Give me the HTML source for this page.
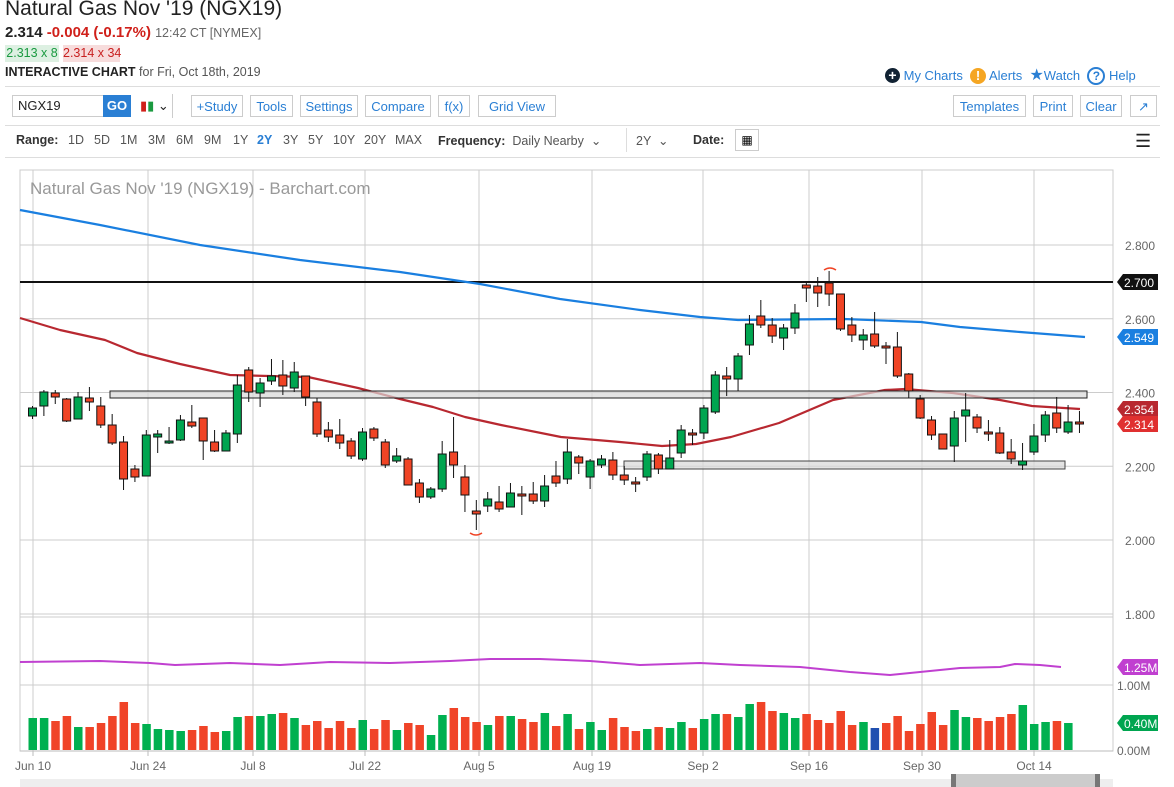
<!DOCTYPE html>
<html><head><meta charset="utf-8">
<style>
body{margin:0;width:1174px;height:787px;overflow:hidden;background:#fff;font-family:"Liberation Sans",sans-serif;position:relative}
.a{position:absolute;white-space:nowrap}
.btn{position:absolute;top:95px;height:22px;border:1px solid #ccc;color:#2a7fd4;font-size:13px;line-height:22px;text-align:center;box-sizing:border-box}
.rng{position:absolute;top:133px;font-size:12.5px;color:#555}
</style></head><body>
<div class="a" style="left:5px;top:-3px;font-size:21px;color:#222">Natural Gas Nov '19 (NGX19)</div>
<div class="a" style="left:5px;top:24px;font-size:15px;color:#222"><b>2.314</b> <b style="color:#d0201a">-0.004 (-0.17%)</b> <span style="font-size:12.5px;color:#666">12:42 CT [NYMEX]</span></div>
<div class="a" style="left:5px;top:45px;width:54px;height:17px;background:#ddf0e2;color:#1a9a40;font-size:12.5px;line-height:17px;text-align:center">2.313 x 8</div>
<div class="a" style="left:63px;top:45px;width:57px;height:17px;background:#f7dcdc;color:#c82020;font-size:12.5px;line-height:17px;text-align:center">2.314 x 34</div>
<div class="a" style="left:5px;top:65px;font-size:12.5px;color:#222"><b>INTERACTIVE CHART</b> <span style="color:#555">for Fri, Oct 18th, 2019</span></div>
<div class="a" style="left:885px;top:65px;font-size:13px;color:#2a7fd4"><span style="display:inline-block;width:15px;height:15px;border-radius:50%;background:#123;color:#fff;text-align:center;line-height:15px;font-weight:bold;font-size:14px">+</span> My Charts &nbsp;<span style="display:inline-block;width:16px;height:16px;border-radius:50%;background:#f5a623;color:#fff;text-align:center;line-height:16px;font-weight:bold">!</span> Alerts &nbsp;<span style="font-size:16px">★</span>Watch &nbsp;<span style="display:inline-block;width:14px;height:14px;border-radius:50%;border:2px solid #2a7fd4;text-align:center;line-height:14px;font-size:12px;font-weight:bold">?</span> Help</div>
<div class="a" style="left:5px;top:86px;width:1155px;border-top:1px solid #ddd"></div>
<div class="a" style="left:12px;top:95px;width:92px;height:22px;border:1px solid #ccc;box-sizing:border-box;font-size:13px;line-height:20px;padding-left:5px;color:#222">NGX19</div>
<div class="a" style="left:103px;top:95px;width:28px;height:22px;background:#2a7fd4;color:#fff;font-weight:bold;font-size:13px;line-height:22px;text-align:center">GO</div>
<div class="a" style="left:140px;top:98px;font-size:13px;color:#222"><span style="color:#d0201a">▮</span><span style="color:#1a9a40">▮</span> ⌄</div>
<div class="a" style="left:172px;top:94px;height:24px;border-left:1px solid #ccc"></div>
<div class="btn" style="left:191px;width:52px">+Study</div>
<div class="btn" style="left:250px;width:43px">Tools</div>
<div class="btn" style="left:300px;width:58px">Settings</div>
<div class="btn" style="left:365px;width:66px">Compare</div>
<div class="btn" style="left:438px;width:32px">f(x)</div>
<div class="btn" style="left:478px;width:78px">Grid View</div>
<div class="btn" style="left:953px;width:73px">Templates</div>
<div class="btn" style="left:1033px;width:40px">Print</div>
<div class="btn" style="left:1080px;width:42px">Clear</div>
<div class="btn" style="left:1130px;width:27px">↗</div>
<div class="a" style="left:5px;top:125px;width:1155px;border-top:1px solid #ddd"></div>
<div class="rng" style="left:16px"><b style="color:#333">Range:</b></div>
<div class="rng" style="left:68px">1D</div><div class="rng" style="left:94px">5D</div><div class="rng" style="left:120px">1M</div><div class="rng" style="left:148px">3M</div><div class="rng" style="left:176px">6M</div><div class="rng" style="left:204px">9M</div><div class="rng" style="left:233px">1Y</div><div class="rng" style="left:257px;color:#2a7fd4;font-weight:bold">2Y</div><div class="rng" style="left:283px">3Y</div><div class="rng" style="left:308px">5Y</div><div class="rng" style="left:333px">10Y</div><div class="rng" style="left:364px">20Y</div><div class="rng" style="left:395px">MAX</div>
<div class="rng" style="left:438px"><b style="color:#333">Frequency:</b> &nbsp;Daily Nearby &nbsp;⌄</div>
<div class="a" style="left:626px;top:128px;height:24px;border-left:1px solid #ddd"></div>
<div class="rng" style="left:636px">2Y &nbsp;⌄</div>
<div class="rng" style="left:693px"><b style="color:#333">Date:</b></div>
<div class="a" style="left:735px;top:129px;width:24px;height:22px;border:1px solid #ccc;box-sizing:border-box;font-size:12px;text-align:center;line-height:20px">▦</div>
<div class="a" style="left:1135px;top:131px;font-size:18px;color:#222">☰</div>
<div class="a" style="left:5px;top:157px;width:1155px;border-top:1px solid #ddd"></div>
<svg id="c" class="a" style="left:0;top:0" width="1174" height="787" xmlns="http://www.w3.org/2000/svg"></svg>
<script>
var s='';
function L(x1,y1,x2,y2,c,w){s+='<line x1="'+x1+'" y1="'+y1+'" x2="'+x2+'" y2="'+y2+'" stroke="'+c+'" stroke-width="'+(w||1)+'"/>';}
function R(x,y,w,h,f,st){s+='<rect x="'+x+'" y="'+y+'" width="'+w+'" height="'+h+'" fill="'+f+'"'+(st?' stroke="'+st+'"':'')+'/>';}
function T(x,y,t,c,sz,an){s+='<text x="'+x+'" y="'+y+'" fill="'+c+'" font-size="'+sz+'" text-anchor="'+(an||'start')+'" font-family="Liberation Sans, sans-serif">'+t+'</text>';}
function P(pts,c,w){s+='<polyline fill="none" stroke="'+c+'" stroke-width="'+w+'" stroke-linejoin="round" points="'+pts.map(p=>p.join(',')).join(' ')+'"/>';}
var gx=[33,148,253,365,479,592,703,809,922,1034],gl=['Jun 10','Jun 24','Jul 8','Jul 22','Aug 5','Aug 19','Sep 2','Sep 16','Sep 30','Oct 14'];
R(20,170,1093,581,'#fff','#ccc');
gx.forEach((x,i)=>{L(x,170,x,751,'#ccc');L(x,751,x,756,'#bbb');T(x,770,gl[i],'#666',12,'middle');});
[245,318.75,392.5,466.25,540].forEach(y=>L(20,y,1113,y,'#ccc'));
var pl=['2.800','2.600','2.400','2.200','2.000','1.800'];[245,318.75,392.5,466.25,540,614].forEach((y,i)=>T(1125,y+5,pl[i],'#666',12));
L(20,614,1113,614,'#ccc');L(20,617,1113,617,'#ccc');L(20,685,1113,685,'#ccc');L(20,751,1113,751,'#bbb');
T(1117,690,'1.00M','#666',12);T(1117,755,'0.00M','#666',12);
T(30,194,'Natural Gas Nov \'19 (NGX19) - Barchart.com','#999',17);
L(20,282,1113,282,'#111',2);
P([[20,210],[100,225],[200,245],[300,260],[400,272],[480,284],[560,299],[640,310],[700,317],[738,320],[844,319],[921,322],[960,327],[1020,332],[1085,337]],'#1a7fe0',2.2);
P([[20,318],[60,330],[105,340],[137,353],[180,364],[230,375],[308,377],[358,388],[400,399],[433,407],[465,417],[501,425],[561,437],[620,442],[662,446],[696,444],[731,437],[779,423],[833,400],[885,390],[905,389],[953,393],[1000,400],[1032,406],[1080,409]],'#b82830',2.2);
var C=[[408,416,406,419,1],[392,406,390,416,1],[393,397,390,404,0],[399,421,398,422,0],[397,419,392,419,1],[398,402,387,411,0],[406,425,397,428,0],[425,443,414,445,0],[442,479,436,490,0],[469,477,465,482,0],[435,476,430,476,1],[434,437,430,453,1],[441,443,427,444,1],[420,440,415,441,1],[422,426,405,428,0],[418,441,418,460,0],[442,451,430,452,0],[433,451,430,451,1],[385,434,375,443,1],[370,392,367,402,0],[383,393,378,407,1],[376,381,359,385,1],[375,386,360,395,0],[372,388,362,392,1],[376,397,376,406,0],[402,434,398,437,0],[430,437,422,442,0],[435,443,419,449,0],[441,456,438,459,0],[432,459,428,461,1],[429,438,427,441,0],[442,465,439,468,0],[456,461,448,463,1],[459,485,457,485,0],[483,497,479,503,0],[489,497,487,499,1],[454,489,441,492,1],[452,465,417,478,0],[477,495,465,512,0],[511,514,500,530,0],[499,506,492,512,1],[502,509,486,512,0],[493,507,483,507,1],[494,496,486,515,0],[494,501,482,504,0],[486,501,475,507,1],[476,483,461,487,0],
[452,479,439,484,1],[457,463,455,474,0],[461,477,459,489,1],[459,465,455,468,1],[460,475,452,480,0],[475,480,466,485,0],[482,483,477,492,0],[454,477,451,481,1],[455,469,453,474,0],[458,469,440,469,1],[430,453,425,458,1],[433,435,429,445,0],[408,433,405,439,1],[375,412,371,414,1],[376,379,367,396,0],[356,379,353,391,1],[324,345,315,355,1],[316,325,300,328,0],[325,336,318,343,0],[328,338,324,350,1],[313,328,304,334,1],[285,288,282,302,0],[286,293,277,307,0],[283,294,271,306,0],[294,329,294,331,0],[325,335,317,342,0],[335,340,329,350,1],[334,346,312,348,0],[346,348,342,364,0],[347,376,332,378,0],[374,391,373,398,0],[399,418,395,419,0],[420,435,416,440,0],[434,449,434,449,0],[418,446,411,462,1],[410,416,393,442,1],[417,428,414,433,0],[432,433,420,441,0],[433,453,427,454,0],[452,459,439,464,0],[461,465,443,470,1],[436,452,424,455,1],[415,435,411,442,1],[413,428,397,433,0],[422,432,405,434,1],[422,424,411,433,0]];
function X(i){return 32.5+i*11.38;}
// rectangles (drawn under candles partially)
R(110,391,977,7,'rgba(215,215,215,0.7)','#222');
R(624,461,441,8,'rgba(215,215,215,0.7)','#444');
C.forEach((c,i)=>{var x=X(i);L(x,c[2],x,c[3],'#111');var h=Math.max(c[1]-c[0],2);R(x-4,c[0],8,h,c[4]?'#00a550':'#f04425','#111');});
s+='<path d="M470,533 Q476,537 482,533" stroke="#f04425" fill="none" stroke-width="1.5"/><path d="M824,270 Q830,266 836,270" stroke="#f04425" fill="none" stroke-width="1.5"/>';
var V=[718,718,721,716,727,727,723,716,702,723,724,729,730,731,730,726,732,731,717,716,716,714,713,718,725,721,728,721,728,720,729,720,730,723,725,735,715,708,717,722,725,716,716,719,722,713,726,714,729,722,730,718,727,731,729,727,728,722,728,719,714,714,717,704,702,711,713,718,714,720,723,711,725,722,728,723,716,731,724,712,725,710,717,718,721,717,714,705,724,722,721,723];
V.forEach((y,i)=>{var c=i==74?'#2050b0':(C[i]&&C[i][4]?'#00b050':'#f04428');R(X(i)-4,y,8.5,750-y,c);});
P([[20,662],[100,661],[150,663],[175,665],[230,663],[280,665],[330,662],[390,663],[450,661],[490,659],[540,659],[590,661],[640,665],[700,663],[740,665],[800,667],[850,672],[890,675],[920,672],[960,668],[1000,667],[1015,664],[1040,665],[1061,667]],'#c040d0',2);
function tag(y,t,bg){s+='<path d="M1117,'+y+' L1123,'+(y-8)+' L1158,'+(y-8)+' L1158,'+(y+8)+' L1123,'+(y+8)+' Z" fill="'+bg+'"/>';T(1124,y+5,t,'#fff',12);}
tag(282,'2.700','#111');tag(337,'2.549','#1a7fe0');tag(409,'2.354','#b82830');tag(424,'2.314','#e03030');tag(667,'1.25M','#c040d0');tag(723,'0.40M','#00a550');
R(20,779,1093,8,'#eee');R(953,774,146,13,'#ccc');R(951,774,5,13,'#777');R(1095,774,5,13,'#777');
document.getElementById('c').innerHTML=s;
</script>
</body></html>
